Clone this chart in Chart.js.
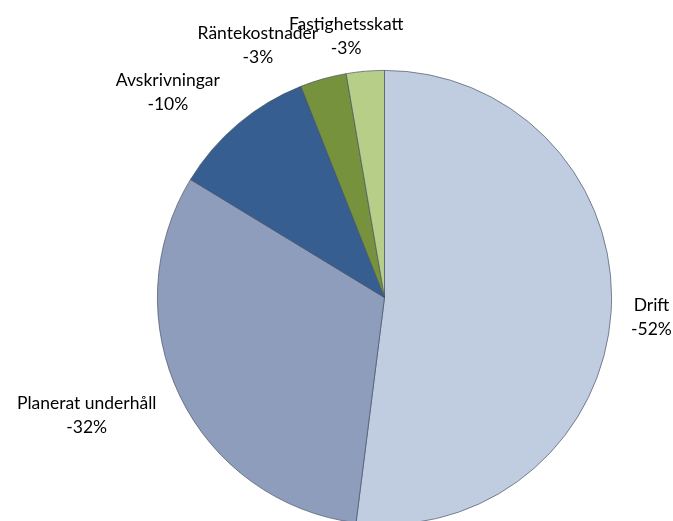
<!DOCTYPE html>
<html>
<head>
<meta charset="utf-8">
<script src="https://cdn.jsdelivr.net/npm/chart.js@4"></script>
<style>
    html, body { margin: 0; padding: 0; background: #fff; overflow: hidden; }
    #wrap { width: 673px; height: 521px; overflow: hidden; }
</style>
</head>
<body>
<div id="wrap"><canvas id="pieChart" width="673" height="525"></canvas></div>
<script>
'use strict';

// 数据 (kostnadsfördelning, negativa värden)
const categories = ['Drift', 'Planerat underhåll', 'Avskrivningar', 'Räntekostnader', 'Fastighetsskatt'];
const values = [-52.0, -31.7, -10.3, -3.3, -2.7];
const sliceColors = ['#C0CCDF', '#8E9DBB', '#365E91', '#76923C', '#B7CE88'];

// 标签微调 (px), 仿 Excel 的 best fit 位置
const labelNudge = [[-6, 2], [-7, -2], [-20, 7], [-42, 15], [-12, 15]];

// 标签插件: 在扇区外侧绘制 "名称 / 百分比"
const outsideLabels = {
    id: 'outsideLabels',
    afterDatasetsDraw(chart) {
        const ctx = chart.ctx;
        const meta = chart.getDatasetMeta(0);
        const total = values.reduce((s, v) => s + Math.abs(v), 0);
        const lineH = 24;
        ctx.save();
        ctx.font = '17.5px Lato, "Open Sans", sans-serif';
        ctx.fillStyle = '#000';
        ctx.textAlign = 'center';
        ctx.textBaseline = 'middle';
        meta.data.forEach((arc, i) => {
            const mid = (arc.startAngle + arc.endAngle) / 2;
            const dx = Math.cos(mid), dy = Math.sin(mid);
            const r = arc.outerRadius + 26;
            const pct = Math.round(values[i] / total * 100) + '%';
            const lines = [categories[i], pct];
            const w = Math.max(...lines.map(t => ctx.measureText(t).width));
            const h = lineH * lines.length;
            const cx = arc.x + dx * r + dx * w / 2 + labelNudge[i][0];
            const cy = arc.y + dy * r + dy * h / 2 + labelNudge[i][1];
            lines.forEach((t, k) => {
                ctx.fillText(t, cx, cy - h / 2 + lineH * (k + 0.5));
            });
        });
        ctx.restore();
    }
};

new Chart(document.getElementById('pieChart'), {
    type: 'pie',
    data: {
        labels: categories,
        datasets: [{
            data: values,
            backgroundColor: sliceColors,
            borderColor: 'rgba(70,80,100,0.85)',
            borderWidth: 0.8
        }]
    },
    options: {
        responsive: false,
        animation: false,
        layout: { padding: { top: 70, left: 96, right: 0, bottom: 0 } },
        plugins: {
            legend: { display: false },
            tooltip: { enabled: false }
        }
    },
    plugins: [outsideLabels]
});
</script>
</body>
</html>
